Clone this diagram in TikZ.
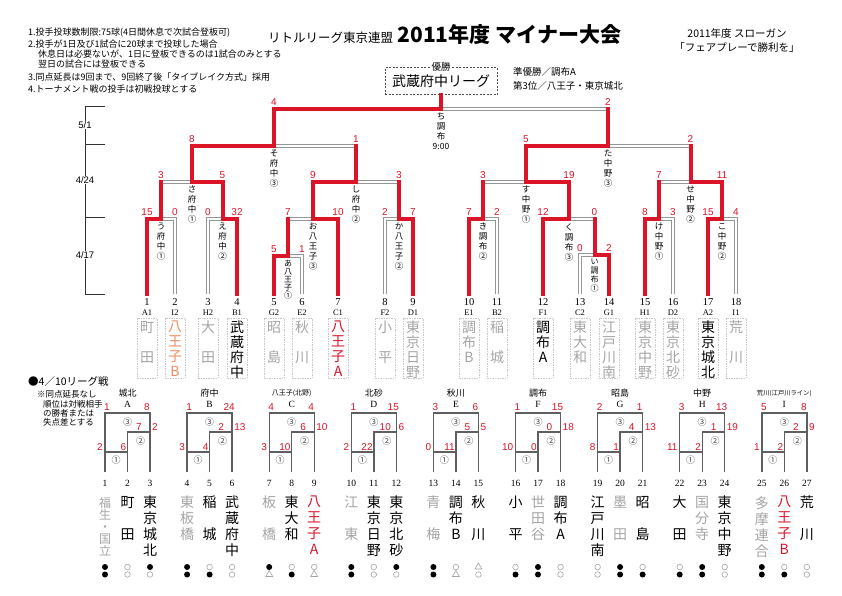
\documentclass[tikz,border=0pt]{standalone}
\usepackage{fontspec}
\usepackage{graphicx}
\usetikzlibrary{positioning,shapes.geometric}
\setmainfont{Noto Sans CJK JP}
\newfontfamily\numfont{Liberation Serif}
\newfontfamily\scorefont{Liberation Sans}
\definecolor{winred}{RGB}{220,20,40}
\definecolor{losegray}{RGB}{150,150,150}
\definecolor{namegray}{RGB}{165,165,165}
\definecolor{nameorange}{RGB}{240,140,100}
\definecolor{boxgray}{RGB}{200,200,200}
\definecolor{leaguegray}{RGB}{95,95,95}

\tikzset{
  win/.style={draw=winred, line width=4pt, line cap=rect},
  lose/.style={draw=losegray, line width=0.8pt, double=white, double distance=2.4pt},
  score/.style={text=winred, font=\scorefont\fontsize{10}{10}\selectfont, inner sep=0pt, above=3pt},
  mlabel/.style={font=\fontsize{8.5}{10}\selectfont, align=center, inner sep=0pt, below=4pt},
  tnum/.style={font=\numfont\fontsize{10.5}{11}\selectfont, inner sep=0pt},
  tcode/.style={font=\numfont\fontsize{8.5}{9}\selectfont, inner sep=0pt},
  tbox/.style={draw=boxgray, line width=0.5pt, dash pattern=on 1.5pt off 1pt, minimum width=20pt, minimum height=60pt, inner sep=0pt},
  tname/.style={font=\fontsize{14}{15}\selectfont, align=center, anchor=north, inner sep=0pt},
  note/.style={anchor=west, font=\fontsize{9}{9}\selectfont, inner sep=0pt},
  datelabel/.style={fill=white, font=\scorefont\fontsize{9.5}{10}\selectfont, inner sep=1pt},
  axisline/.style={draw=black!80, line width=0.7pt},
  champbox/.style={draw=black!70, line width=0.6pt, dash pattern=on 2pt off 1.5pt, minimum width=112pt, minimum height=27pt, font=\fontsize{14}{14}\selectfont, inner sep=0pt},
  league/.style={draw=leaguegray, line width=1.4pt},
  lscore/.style={text=winred, font=\scorefont\fontsize{10}{10}\selectfont, inner sep=0pt},
  lcirc/.style={font=\fontsize{9}{9}\selectfont, text=black!75, inner sep=0pt},
  lnum/.style={font=\numfont\fontsize{9.5}{10}\selectfont, inner sep=0pt},
  lname/.style={font=\fontsize{14}{16}\selectfont, align=center, anchor=north, inner sep=0pt},
  symw/.style={circle, fill=black, minimum size=6pt, inner sep=0pt},
  syml/.style={circle, draw=namegray, line width=0.6pt, minimum size=5.6pt, inner sep=0pt},
  symt/.style={regular polygon, regular polygon sides=3, draw=namegray, line width=0.6pt, minimum size=8pt, inner sep=0pt}
}

\begin{document}
\begin{tikzpicture}[x=1pt,y=-1pt]
  \fill[white] (0,0) rectangle (842,595);
  \useasboundingbox (0,0) rectangle (842,595);

  % Heading
  \node[anchor=base west, font=\fontsize{12.5}{13}\selectfont, inner sep=0pt] (title1) at (268,42) {リトルリーグ東京連盟};
  \node[anchor=base west, font=\fontsize{21}{21}\selectfont\bfseries, inner sep=0pt] (title2) at ([xshift=4pt]title1.base east) {2011年度 マイナー大会};
  \node[font=\fontsize{10.5}{11}\selectfont, inner sep=0pt] (slogan1) at (737,33) {2011年度 スローガン};
  \node[font=\fontsize{10.5}{11}\selectfont, inner sep=0pt] (slogan2) at (737,48) {「フェアプレーで勝利を」};

  % Rules
  \node[note] (rule1) at (28,33) {1.投手投球数制限:75球(4日間休息で次試合登板可)};
  \node[note] (rule2) at (28,44) {2.投手が1日及び1試合に20球まで投球した場合};
  \node[note] (rule2b) at (38,54) {休息日は必要ないが、1日に登板できるのは1試合のみとする};
  \node[note] (rule2c) at (38,64) {翌日の試合には登板できる};
  \node[note] (rule3) at (28,77) {3.同点延長は9回まで、9回終了後「タイブレイク方式」採用};
  \node[note] (rule4) at (28,89) {4.トーナメント戦の投手は初戦投球とする};

  % Result
  \node[champbox] (champ) at (441,81) {武蔵府中リーグ};
  \node[fill=white, inner sep=1pt, font=\fontsize{9.5}{10}\selectfont] (yusho) at (champ.north) {優勝};
  \node[note, font=\fontsize{9.5}{10}\selectfont] (second) at (513,72) {準優勝／調布A};
  \node[note, font=\fontsize{9.5}{10}\selectfont] (third) at (513,86) {第3位／八王子・東京城北};

  % Dates
  \draw[axisline] (105,106) -| (85,294) -- (105,294);
  \draw[axisline] (85,144) -- (105,144);
  \draw[axisline] (85,217) -- (105,217);
  \node[datelabel] (date1) at (85,125) {5/1};
  \node[datelabel] (date2) at (85,180) {4/24};
  \node[datelabel] (date3) at (85,255) {4/17};

  % Teams
  \foreach \i/\x/\cd/\nm/\col in {
    1/147/A1/{町\\[15pt]田}/namegray, 2/175/I2/{八\\王\\子\\B}/nameorange,
    3/208/H2/{大\\[15pt]田}/namegray, 4/237/B1/{武\\蔵\\府\\中}/black,
    5/274/G2/{昭\\[15pt]島}/namegray, 6/302/E2/{秋\\[15pt]川}/namegray,
    7/338/C1/{八\\王\\子\\A}/winred, 8/385/F2/{小\\[15pt]平}/namegray,
    9/413/D1/{東\\京\\日\\野}/namegray, 10/469/E1/{調\\布\\B}/namegray,
    11/497/B2/{稲\\[15pt]城}/namegray, 12/543/F1/{調\\布\\A}/black,
    13/580/C2/{東\\大\\和}/namegray, 14/609/G1/{江\\戸\\川\\南}/namegray,
    15/645/H1/{東\\京\\中\\野}/namegray, 16/673/D2/{東\\京\\北\\砂}/namegray,
    17/708/A2/{東\\京\\城\\北}/black, 18/736/I1/{荒\\[15pt]川}/namegray}{
    \coordinate (t\i) at (\x,294);
    \node[tnum] (n\i) at (\x,302) {\i};
    \node[tcode] (c\i) at (\x,313) {\cd};
    \node[tbox] (b\i) at (\x,348) {};
    \node[tname, text=\col] (nm\i) at (\x,321) {\nm};
  }

  % Matches
  \coordinate (mU) at (161,219);
  \coordinate (mE) at (222.5,219);
  \coordinate (mA) at (288,256);
  \coordinate (mO) at (313,219);
  \coordinate (mK) at (399,219);
  \coordinate (mSa) at (192,182);
  \coordinate (mShi) at (356,182);
  \coordinate (mSo) at (274,146);
  \coordinate (mKi) at (483,219);
  \coordinate (mI) at (594.5,255);
  \coordinate (mKu) at (569,219);
  \coordinate (mKe) at (659,219);
  \coordinate (mKo) at (722,219);
  \coordinate (mSu) at (526,182);
  \coordinate (mSe) at (690.5,182);
  \coordinate (mTa) at (608,146);
  \coordinate (mChi) at (441,109);

  % Losing sides
  \draw[lose] (t2) |- (mU);
  \draw[lose] (t3) |- (mE);
  \draw[lose] (t6) |- (mA);
  \draw[lose] (t8) |- (mK);
  \draw[lose] (t11) |- (mKi);
  \draw[lose] (t13) |- (mI);
  \draw[lose] (t16) |- (mKe);
  \draw[lose] (t18) |- (mKo);
  \draw[lose] (mA |- mO) -- (mO);
  \draw[lose] (mU |- mSa) -- (mSa);
  \draw[lose] (mK |- mShi) -- (mShi);
  \draw[lose] (mShi |- mSo) -- (mSo);
  \draw[lose] (mI |- mKu) -- (mKu);
  \draw[lose] (mKi |- mSu) -- (mSu);
  \draw[lose] (mKe |- mSe) -- (mSe);
  \draw[lose] (mSe |- mTa) -- (mTa);
  \draw[lose] (mTa |- mChi) -- (mChi);

  % Winning sides
  \draw[win] (t1) |- (mU);
  \draw[win] (t4) |- (mE);
  \draw[win] (t5) |- (mA);
  \draw[win] (t7) |- (mO);
  \draw[win] (t9) |- (mK);
  \draw[win] (t10) |- (mKi);
  \draw[win] (t14) |- (mI);
  \draw[win] (t12) |- (mKu);
  \draw[win] (t15) |- (mKe);
  \draw[win] (t17) |- (mKo);
  \draw[win] (mA) -- (mA |- mO);
  \draw[win] (mU) -- (mU |- mSa);
  \draw[win] (mK) -- (mK |- mShi);
  \draw[win] (mShi) -- (mShi |- mSo);
  \draw[win] (mI) -- (mI |- mKu);
  \draw[win] (mKi) -- (mKi |- mSu);
  \draw[win] (mKe) -- (mKe |- mSe);
  \draw[win] (mSe) -- (mSe |- mTa);
  \draw[win] (mTa) -- (mTa |- mChi);
  \draw[win] (mE) |- (mSa);
  \draw[win] (mO) |- (mShi);
  \draw[win] (mSa) |- (mSo);
  \draw[win] (mKu) |- (mSu);
  \draw[win] (mKo) |- (mSe);
  \draw[win] (mSu) |- (mTa);
  \draw[win] (mSo) |- (mChi);
  \draw[win] (mChi) -- (champ.south);

  % Scores
  \node[score] (sU1) at (t1 |- mU) {15};
  \node[score] (sU2) at (t2 |- mU) {0};
  \node[score] (sE3) at (t3 |- mE) {0};
  \node[score] (sE4) at (t4 |- mE) {32};
  \node[score] (sA5) at (t5 |- mA) {5};
  \node[score] (sA6) at (t6 |- mA) {1};
  \node[score] (sOA) at (mA |- mO) {7};
  \node[score] (sO7) at (t7 |- mO) {10};
  \node[score] (sK8) at (t8 |- mK) {2};
  \node[score] (sK9) at (t9 |- mK) {7};
  \node[score] (sSaU) at (mU |- mSa) {3};
  \node[score] (sSaE) at (mE |- mSa) {5};
  \node[score] (sShiO) at (mO |- mShi) {9};
  \node[score] (sShiK) at (mK |- mShi) {3};
  \node[score] (sSoSa) at (mSa |- mSo) {8};
  \node[score] (sSoShi) at (mShi |- mSo) {1};
  \node[score] (sChiSo) at (mSo |- mChi) {4};
  \node[score] (sChiTa) at (mTa |- mChi) {2};
  \node[score] (sKi10) at (t10 |- mKi) {7};
  \node[score] (sKi11) at (t11 |- mKi) {2};
  \node[score] (sI13) at (t13 |- mI) {0};
  \node[score] (sI14) at (t14 |- mI) {2};
  \node[score] (sKu12) at (t12 |- mKu) {12};
  \node[score] (sKuI) at (mI |- mKu) {0};
  \node[score] (sKe15) at (t15 |- mKe) {8};
  \node[score] (sKe16) at (t16 |- mKe) {3};
  \node[score] (sKo17) at (t17 |- mKo) {15};
  \node[score] (sKo18) at (t18 |- mKo) {4};
  \node[score] (sSuKi) at (mKi |- mSu) {3};
  \node[score] (sSuKu) at (mKu |- mSu) {19};
  \node[score] (sSeKe) at (mKe |- mSe) {7};
  \node[score] (sSeKo) at (mKo |- mSe) {11};
  \node[score] (sTaSu) at (mSu |- mTa) {5};
  \node[score] (sTaSe) at (mSe |- mTa) {2};

  % Match names
  \node[mlabel] (lChi) at (mChi) {ち\\調\\布\\9:00};
  \node[mlabel] (lSo) at (mSo) {そ\\府\\中\\③};
  \node[mlabel] (lTa) at (mTa) {た\\中\\野\\③};
  \node[mlabel] (lSa) at (mSa) {さ\\府\\中\\①};
  \node[mlabel] (lShi) at (mShi) {し\\府\\中\\②};
  \node[mlabel] (lSu) at (mSu) {す\\中\\野\\①};
  \node[mlabel] (lSe) at (mSe) {せ\\中\\野\\②};
  \node[mlabel] (lU) at (mU) {う\\府\\中\\①};
  \node[mlabel] (lE) at (mE) {え\\府\\中\\②};
  \node[mlabel] (lO) at (mO) {お\\八\\王\\子\\③};
  \node[mlabel] (lK) at (mK) {か\\八\\王\\子\\②};
  \node[mlabel] (lKi) at (mKi) {き\\調\\布\\②};
  \node[mlabel] (lKu) at (mKu) {く\\調\\布\\③};
  \node[mlabel] (lKe) at (mKe) {け\\中\\野\\①};
  \node[mlabel] (lKo) at (mKo) {こ\\中\\野\\②};
  \node[mlabel, font=\fontsize{8}{8}\selectfont] (lA) at (mA) {あ\\八\\王\\子\\①};
  \node[mlabel, font=\fontsize{8}{9}\selectfont] (lI) at (mI) {い\\調\\布\\①};

  % League
  \node[note, font=\fontsize{10.5}{11}\selectfont] (league) at (28,381) {●4／10リーグ戦};
  \node[note, font=\fontsize{8.5}{9}\selectfont] (lnote1) at (37,394) {※同点延長なし};
  \node[note, font=\fontsize{8.5}{9}\selectfont] (lnote2) at (43,404) {順位は対戦相手};
  \node[note, font=\fontsize{8.5}{9}\selectfont] (lnote3) at (43,413) {の勝者または};
  \node[note, font=\fontsize{8.5}{9}\selectfont] (lnote4) at (43,422) {失点差とする};

  \foreach \k/\lname/\llet/\sa/\sb/\sc/\sd/\se/\sf in {
    0/城北/A/1/8/7/2/2/6, 1/府中/B/1/24/2/13/3/4,
    2/{\fontsize{7}{7}\selectfont 八王子(北野)}/C/4/4/6/10/3/10,
    3/北砂/D/1/15/10/6/2/22, 4/秋川/E/3/6/5/5/0/11,
    5/調布/F/1/15/0/18/10/0, 6/昭島/G/2/1/4/13/8/1,
    7/中野/H/3/13/1/19/11/2,
    8/{\fontsize{6.3}{7}\selectfont 荒川(江戸川ライン)}/I/5/8/2/9/1/2}{
    \pgfmathsetmacro\xa{105+82.1*\k}
    \pgfmathsetmacro\xb{\xa+22.5}
    \pgfmathsetmacro\xc{\xa+45}
    \draw[league] (\xa,472) -- (\xa,413) -- (\xc,413) -- (\xc,472);
    \draw[league] (\xb,472) -- (\xb,432) -- (\xc,432);
    \draw[league] (\xa,452) -- (\xb,452);
    \node[font=\fontsize{9}{9}\selectfont, inner sep=0pt] (ln\k) at (\xb,393) {\lname};
    \node[lnum] (ll\k) at (\xb,404) {\llet};
    \node[lcirc] (lc\k c) at (\xb,422) {③};
    \node[lcirc] (lc\k b) at (\xb+13,441) {②};
    \node[lcirc] (lc\k a) at (\xa+11,460) {①};
    \node[lscore] (lsa\k) at (\xa+2,407) {\sa};
    \node[lscore] (lsb\k) at (\xc-3,407) {\sb};
    \node[lscore] (lsc\k) at (\xc-11,427) {\sc};
    \node[lscore, anchor=west] (lsd\k) at (\xc+2,427) {\sd};
    \node[lscore, anchor=east] (lse\k) at (\xa-2,447) {\se};
    \node[lscore, anchor=east] (lsf\k) at (\xb-1,447) {\sf};
  }

  % first league team, five glyphs
  \node[lnum] (lt1) at (105,483) {1};
  \node[lname, text=namegray, font=\fontsize{12}{12}\selectfont] (lnm1) at (105,497) {福\\生\\・\\国\\立};
  \node[symw] (sy1a) at (105,567) {};
  \node[symw] (sy1b) at (105,574.5) {};

  \foreach \i/\nm/\col/\ra/\rb in {
    2/{町\\[16pt]田}/black/syml/syml,
    3/{東\\京\\城\\北}/black/symw/syml,
    4/{東\\板\\橋}/namegray/symw/symw,
    5/{稲\\[16pt]城}/black/syml/symw,
    6/{武\\蔵\\府\\中}/black/syml/syml,
    7/{板\\[16pt]橋}/namegray/symw/symt,
    8/{東\\大\\和}/black/syml/symw,
    9/{八\\王\\子\\A}/winred/syml/symt,
    10/{江\\[16pt]東}/namegray/symw/symw,
    11/{東\\京\\日\\野}/black/syml/syml,
    12/{東\\京\\北\\砂}/black/symw/syml,
    13/{青\\[16pt]梅}/namegray/symw/symw,
    14/{調\\布\\B}/black/syml/symt,
    15/{秋\\[16pt]川}/black/symt/syml,
    16/{小\\[16pt]平}/black/syml/symw,
    17/{世\\田\\谷}/namegray/symw/symw,
    18/{調\\布\\A}/black/syml/syml,
    19/{江\\戸\\川\\南}/black/syml/syml,
    20/{墨\\[16pt]田}/namegray/symw/symw,
    21/{昭\\[16pt]島}/black/syml/symw,
    22/{大\\[16pt]田}/black/syml/symw,
    23/{国\\分\\寺}/namegray/symw/symw,
    24/{東\\京\\中\\野}/black/syml/syml,
    25/{多\\摩\\連\\合}/namegray/symw/symw,
    26/{八\\王\\子\\B}/winred/syml/symw,
    27/{荒\\[16pt]川}/black/syml/syml}{
    \pgfmathsetmacro\x{105+82.1*int((\i-1)/3)+22.5*mod(\i-1,3)}
    \node[lnum] (lt\i) at (\x,483) {\i};
    \node[lname, text=\col] (lnm\i) at (\x,496) {\nm};
    \node[\ra] (sy\i a) at (\x,567) {};
    \node[\rb] (sy\i b) at (\x,574.5) {};
  }
\end{tikzpicture}
\end{document}
